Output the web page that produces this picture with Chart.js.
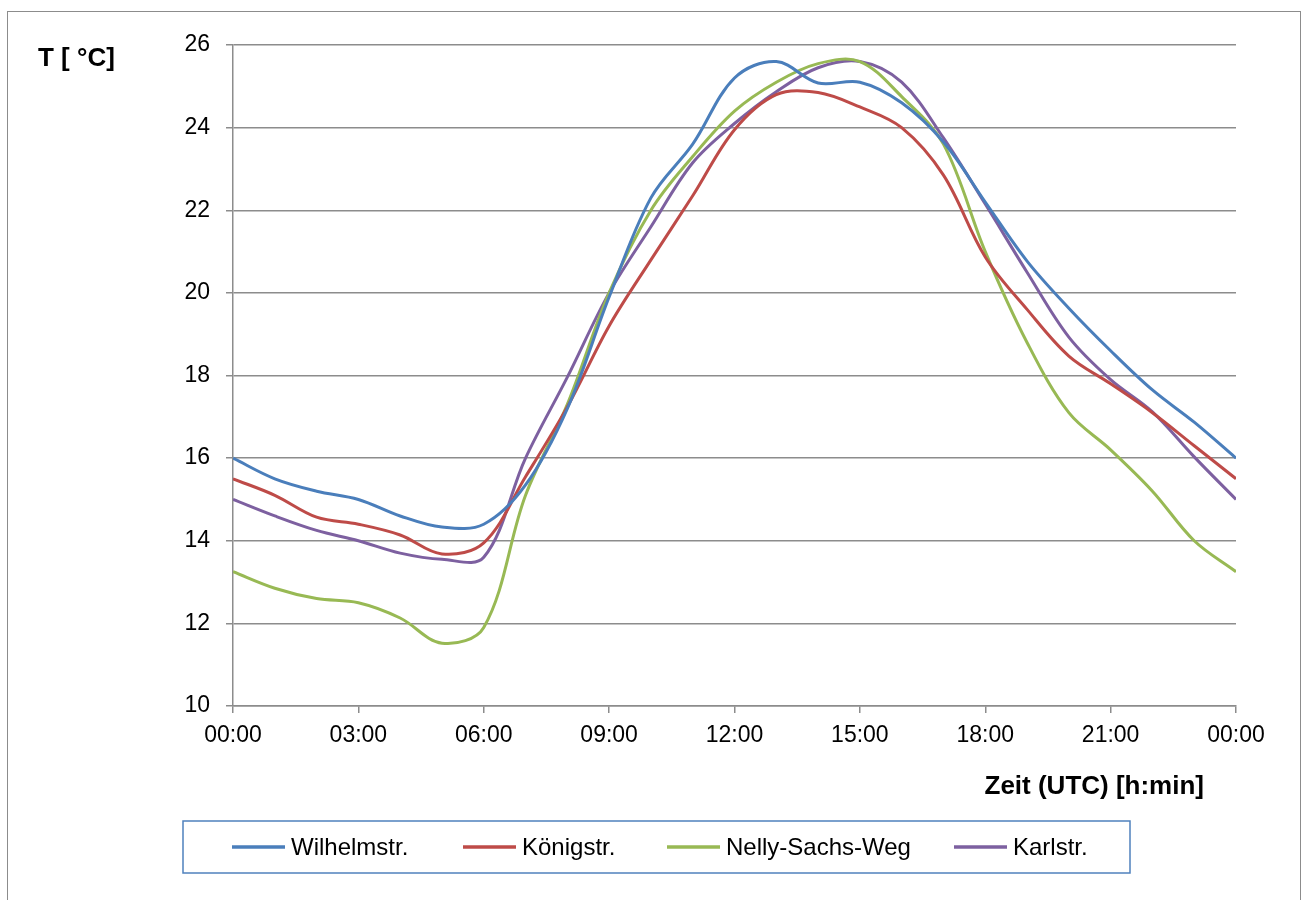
<!DOCTYPE html>
<html>
<head>
<meta charset="utf-8">
<script src="https://cdn.jsdelivr.net/npm/chart.js@4.4.0/dist/chart.umd.min.js"></script>
<style>
  html, body { margin: 0; padding: 0; background: #fff; }
  #frame { position: absolute; left: 7px; top: 11px; width: 1294px; height: 960px; border: 1.5px solid #8c8c8c; box-sizing: border-box; }
  #wrap { position: absolute; left: 0; top: 0; width: 1302px; height: 900px; }
</style>
</head>
<body>
<div id="frame"></div>
<div id="wrap"><canvas id="myChart" width="1302" height="900"></canvas></div>
<script>
// hourly values
let hours = [0,1,2,3,4,5,6,7,8,9,10,11,12,13,14,15,16,17,18,19,20,21,22,23,24];
let wilhelm = [16.0,15.5,15.2,15.0,14.6,14.33,14.4,15.35,17.2,19.9,22.3,23.6,25.2,25.6,25.08,25.1,24.6,23.65,22.2,20.77,19.63,18.6,17.65,16.87,16.0];
let koenig  = [15.5,15.1,14.57,14.4,14.14,13.68,13.95,15.55,17.24,19.2,20.8,22.35,23.95,24.8,24.85,24.5,24.0,22.85,20.87,19.6,18.47,17.8,17.1,16.3,15.5];
let nelly   = [13.25,12.85,12.6,12.5,12.13,11.52,11.9,15.1,17.3,20.0,22.0,23.3,24.4,25.1,25.55,25.6,24.75,23.6,21.0,18.8,17.1,16.2,15.2,14.0,13.25];
let karl    = [15.0,14.6,14.25,14.0,13.7,13.55,13.6,16.0,17.96,20.0,21.6,23.15,24.1,24.87,25.45,25.6,25.1,23.75,22.15,20.5,18.93,17.9,17.12,16.03,15.0];
let seriesNames = ['Wilhelmstr.', 'Königstr.', 'Nelly-Sachs-Weg', 'Karlstr.'];
let seriesColors = ['#4a7ebb', '#be4b48', '#98b954', '#7d60a0'];
let yTitle = 'T [ °C]';
let xTitle = 'Zeit (UTC) [h:min]';

function toPoints(arr) {
    let pts = [];
    for (let i = 0; i < hours.length; i++) {
        pts[i] = { x: hours[i], y: arr[i] };
    }
    return pts;
}

let allSeries = [wilhelm, koenig, nelly, karl];
let datasets = [];
for (let i = 0; i < allSeries.length; i++) {
    datasets.push({
        label: seriesNames[i],
        data: toPoints(allSeries[i]),
        borderColor: seriesColors[i],
        backgroundColor: seriesColors[i],
        borderWidth: 3,
        pointRadius: 0,
        tension: 0.35,
        fill: false
    });
}

// titles and the boxed legend under the chart
let extras = {
    id: 'extras',
    afterDraw(chart) {
        let c = chart.ctx;
        c.save();
        c.fillStyle = '#000';
        c.font = 'bold 26px "Liberation Sans", Arial, sans-serif';
        c.textBaseline = 'middle';
        c.textAlign = 'left';
        c.fillText(yTitle, 38, 59);
        c.textAlign = 'right';
        c.fillText(xTitle, 1204, 787);

        // legend box
        c.strokeStyle = '#4f81bd';
        c.lineWidth = 1.5;
        c.strokeRect(183, 821, 947, 52);
        let lineStarts = [232, 463, 667, 954];
        c.font = '24px "Liberation Sans", Arial, sans-serif';
        c.textAlign = 'left';
        chart.data.datasets.forEach((ds, i) => {
            let x0 = lineStarts[i];
            c.strokeStyle = ds.borderColor;
            c.lineWidth = 3.5;
            c.beginPath();
            c.moveTo(x0, 847);
            c.lineTo(x0 + 53, 847);
            c.stroke();
            c.fillStyle = '#000';
            c.fillText(ds.label, x0 + 59, 848);
        });
        c.restore();
    }
};

let ctx = document.getElementById('myChart').getContext('2d');
let myChart = new Chart(ctx, {
    type: 'line',
    data: { datasets: datasets },
    options: {
        responsive: false,
        animation: false,
        layout: { padding: { top: 45, right: 66, left: 0, bottom: 0 } },
        plugins: { legend: { display: false }, tooltip: { enabled: false } },
        scales: {
            x: {
                type: 'linear',
                min: 0,
                max: 24,
                afterFit: (s) => { s.height = 194; },
                ticks: {
                    stepSize: 3,
                    color: '#000',
                    padding: 9,
                    maxRotation: 0,
                    font: { family: '"Liberation Sans", Arial, sans-serif', size: 23 },
                    callback: (v) => {
                        let h = v % 24;
                        return (h < 10 ? '0' : '') + h + ':00';
                    }
                },
                grid: { drawOnChartArea: false, color: '#8c8c8c', lineWidth: 1.5, tickLength: 7 },
                border: { color: '#8c8c8c', width: 1.5 }
            },
            y: {
                min: 10,
                max: 26,
                afterFit: (s) => { s.width = 233; },
                ticks: {
                    stepSize: 2,
                    color: '#000',
                    padding: 16,
                    font: { family: '"Liberation Sans", Arial, sans-serif', size: 23 }
                },
                grid: { color: '#8c8c8c', lineWidth: 1.5, tickLength: 7 },
                border: { color: '#8c8c8c', width: 1.5 }
            }
        }
    },
    plugins: [extras]
});
</script>
</body>
</html>
